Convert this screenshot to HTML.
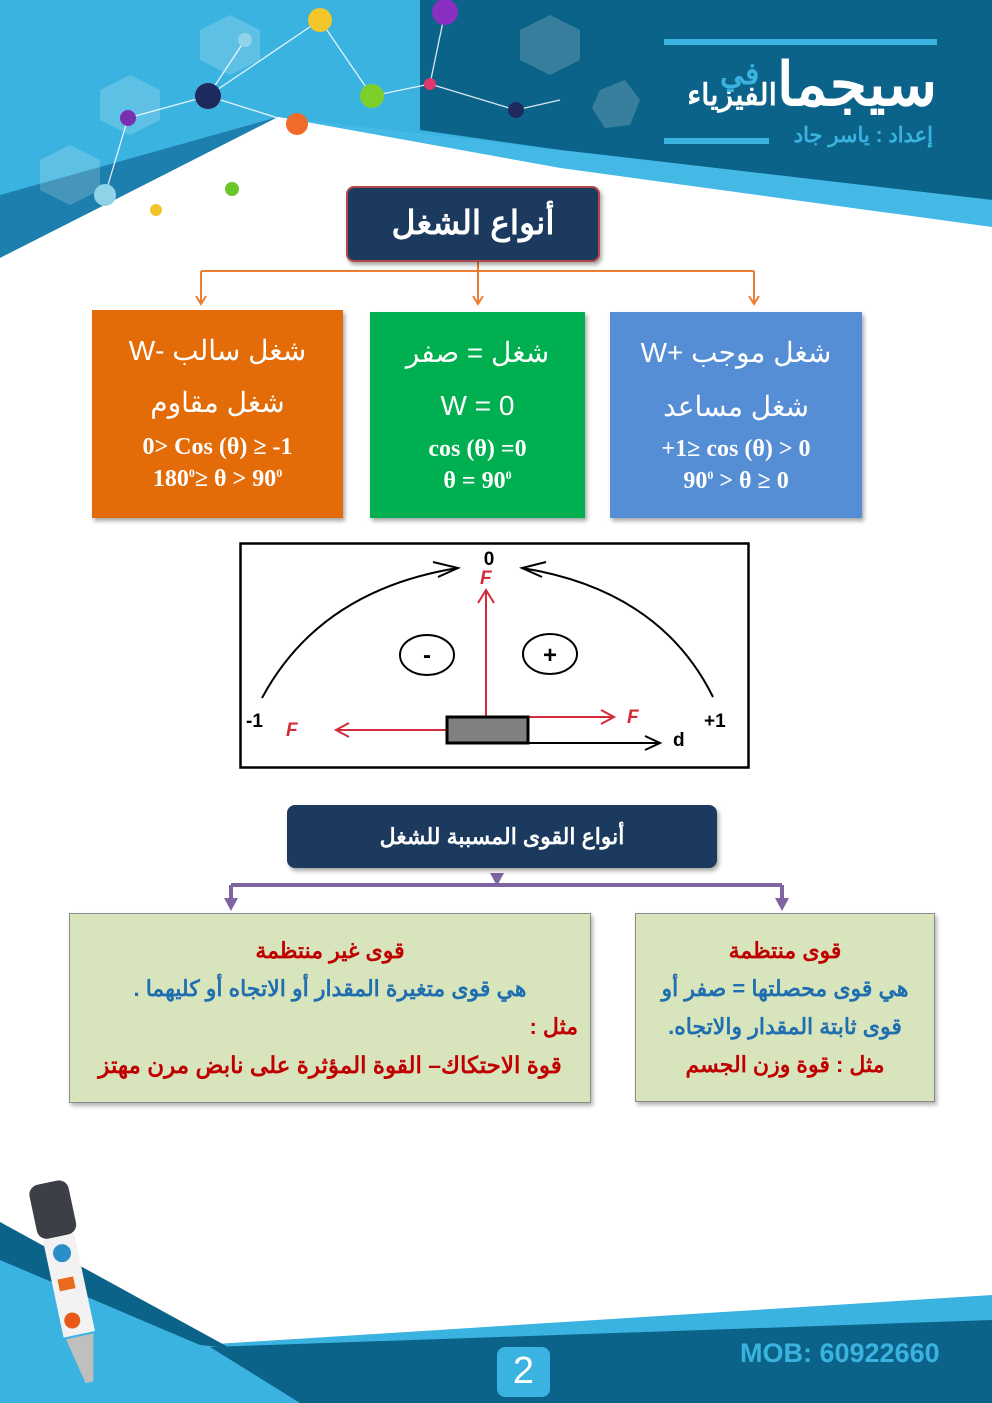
<!DOCTYPE html>
<html><head><meta charset="utf-8">
<style>
html,body{margin:0;padding:0}
body{width:992px;height:1403px;position:relative;overflow:hidden;background:#fff;font-family:"Liberation Sans","Noto Sans CJK SC",sans-serif}
.abs{position:absolute}
.box{position:absolute;color:#fff;text-align:center;box-shadow:2px 3px 4px rgba(0,0,0,.35)}
.ar{font-family:"Liberation Sans","WenQuanYi Zen Hei",sans-serif}
.ser{font-family:"Liberation Serif",serif;font-weight:bold}
.tb{position:absolute;background:#d8e4bc;border:1px solid #8a8a8a;box-shadow:2px 3px 4px rgba(0,0,0,.3);text-align:center;direction:rtl}
.tb div{position:absolute;left:0;right:0;font-size:22px;font-weight:bold}
.r{color:#c00000}.b{color:#1f6fb0}
</style></head><body>
<svg class="abs" style="left:0;top:0" width="992" height="1403">
 <!-- header -->
 <polygon points="0,0 992,0 992,230 278,117 0,258" fill="#3ab3e0"/>
 <polygon points="0,258 278,117 0,195" fill="#1d7fae"/>
 <polygon points="420,0 992,0 992,200 560,150 420,130" fill="#0c6389"/>
 <polygon points="278,117 560,150 992,200 992,228 560,168" fill="#45b9e6"/>
 <polygon points="0,258 278,117 560,168 992,227 992,1403 0,1403" fill="#ffffff"/>
 <g fill="#ffffff" opacity=".18">
  <polygon points="40,160 70,145 100,160 100,190 70,205 40,190"/>
  <polygon points="100,90 130,75 160,90 160,120 130,135 100,120"/>
  <polygon points="200,30 230,15 260,30 260,60 230,75 200,60"/>
  <polygon points="520,30 550,15 580,30 580,60 550,75 520,60"/>
  <polygon points="600,90 625,80 640,100 630,125 605,128 592,108"/>
 </g>
 <g stroke="#fff" stroke-width="1.3" opacity=".85">
  <line x1="128" y1="118" x2="208" y2="96"/><line x1="208" y1="96" x2="320" y2="20"/>
  <line x1="208" y1="96" x2="297" y2="124"/><line x1="372" y1="96" x2="430" y2="84"/>
  <line x1="430" y1="84" x2="516" y2="110"/><line x1="516" y1="110" x2="560" y2="100"/>
  <line x1="105" y1="195" x2="128" y2="118"/><line x1="445" y1="12" x2="430" y2="84"/>
  <line x1="245" y1="40" x2="208" y2="96"/><line x1="320" y1="20" x2="372" y2="96"/>
 </g>
 <circle cx="128" cy="118" r="8" fill="#7a2fb0"/>
 <circle cx="208" cy="96" r="13" fill="#1e2a5e"/>
 <circle cx="320" cy="20" r="12" fill="#f2c52b"/>
 <circle cx="445" cy="12" r="13" fill="#8a2fc2"/>
 <circle cx="372" cy="96" r="12" fill="#7ccf2b"/>
 <circle cx="430" cy="84" r="6" fill="#e0356e"/>
 <circle cx="516" cy="110" r="8" fill="#1e2a5e"/>
 <circle cx="297" cy="124" r="11" fill="#f06a2a"/>
 <circle cx="245" cy="40" r="7" fill="#8fd3e8"/>
 <circle cx="105" cy="195" r="11" fill="#8fd3e8"/>
 <circle cx="232" cy="189" r="7" fill="#6ac52b"/>
 <circle cx="156" cy="210" r="6" fill="#f2c52b"/>
 <rect x="664" y="39" width="273" height="6" fill="#3ab3e0"/>
 <rect x="664" y="138" width="105" height="6" fill="#3ab3e0"/>
 <!-- footer -->
 <polygon points="0,1222 200,1345 992,1295 992,1403 0,1403" fill="#3ab3e0"/>
 <polygon points="210,1347 992,1320 992,1403 300,1403" fill="#0c6389"/>
 <polygon points="0,1222 230,1348 200,1345 0,1260" fill="#0c6389"/>
 <!-- pen -->
 <g transform="rotate(-12 80 1280)">
  <rect x="48" y="1178" width="40" height="55" rx="10" fill="#3c3f45"/>
  <rect x="52" y="1233" width="32" height="100" fill="#f2f2f2"/>
  <circle cx="68" cy="1250" r="9" fill="#2a8fc8"/><rect x="58" y="1275" width="16" height="12" fill="#e86a1a"/>
  <circle cx="64" cy="1318" r="8" fill="#e85a1a"/>
  <polygon points="54,1335 82,1335 72,1382 64,1382" fill="#bfbfbf"/>
 </g>
 <rect x="497" y="1347" width="53" height="50" rx="8" fill="#3ab3e0"/>
 <!-- orange connectors -->
 <g stroke="#ed7d31" stroke-width="2" fill="none">
  <line x1="478" y1="262" x2="478" y2="302"/><line x1="201" y1="271" x2="754" y2="271"/>
  <line x1="201" y1="271" x2="201" y2="302"/><line x1="754" y1="271" x2="754" y2="302"/>
  <polyline points="196,296 201,304 206,296"/><polyline points="473,296 478,304 483,296"/><polyline points="749,296 754,304 759,296"/>
 </g>
 <!-- purple connectors -->
 <g stroke="#8064a2" stroke-width="4" fill="none">
  <line x1="231" y1="885" x2="782" y2="885"/>
  <line x1="231" y1="885" x2="231" y2="900"/><line x1="782" y1="885" x2="782" y2="900"/>
 </g>
 <g fill="#8064a2">
  <polygon points="224,898 238,898 231,911"/><polygon points="775,898 789,898 782,911"/>
  <polygon points="490,873 504,873 497,886"/>
 </g>
 <!-- diagram -->
 <rect x="240.5" y="543.5" width="508" height="224" fill="#fff" stroke="#000" stroke-width="2.5"/>
 <g fill="none" stroke="#000" stroke-width="2">
  <path d="M262,698 Q320,590 458,568"/><polyline points="433,562 458,568 438,577"/>
  <path d="M713,697 Q660,590 522,568"/><polyline points="546,562 522,568 542,577"/>
  <ellipse cx="427" cy="655" rx="27" ry="20"/><ellipse cx="550" cy="654" rx="27" ry="20"/>
  <line x1="528" y1="743" x2="660" y2="743"/><polyline points="645,736 660,743 645,750"/>
 </g>
 <text x="427" y="663" font-size="24" font-weight="bold" text-anchor="middle" font-family="Liberation Sans">-</text>
 <text x="550" y="663" font-size="24" font-weight="bold" text-anchor="middle" font-family="Liberation Sans">+</text>
 <g stroke="#d42b3a" stroke-width="2" fill="none">
  <line x1="486" y1="718" x2="486" y2="592"/><polyline points="478,603 486,590 494,603"/>
  <line x1="528" y1="717" x2="613" y2="717"/><polyline points="601,710 614,717 601,724"/>
  <line x1="447" y1="730" x2="336" y2="730"/><polyline points="349,723 336,730 349,737"/>
 </g>
 <rect x="447" y="717" width="81" height="26" fill="#808080" stroke="#000" stroke-width="3"/>
 <g font-family="Liberation Sans" font-weight="bold" font-size="19">
  <text x="489" y="565" text-anchor="middle">0</text>
  <text x="246" y="727">-1</text><text x="704" y="727">+1</text>
  <text x="673" y="746">d</text>
  <g fill="#d42b3a" font-style="italic"><text x="480" y="584">F</text><text x="627" y="723">F</text><text x="286" y="736">F</text></g>
 </g>
</svg>

<div class="abs ar" style="left:664px;top:50px;width:273px;text-align:right;direction:rtl;color:#fff;font-size:60px;font-weight:bold;line-height:70px">سيجما<span style="font-size:30px;color:#fff">الفيزياء</span><span style="position:absolute;left:56px;top:-10px;font-size:30px;color:#3ab3e0">في</span></div>
<div class="abs ar" style="left:776px;top:123px;width:157px;text-align:right;direction:rtl;color:#3ab3e0;font-size:21px;font-weight:bold">إعداد : ياسر جاد</div>

<div class="box ar" style="left:346px;top:186px;width:254px;height:76px;background:#1b3a5e;border:2px solid #b04a4a;border-radius:8px;box-sizing:border-box;font-size:33px;font-weight:bold;line-height:70px">أنواع الشغل</div>

<div class="box" style="left:92px;top:310px;width:251px;height:208px;background:#e36c09">
 <div class="ar" style="position:absolute;top:24px;width:100%;font-size:28px;direction:rtl">شغل سالب -W</div>
 <div class="ar" style="position:absolute;top:76px;width:100%;font-size:28px">شغل مقاوم</div>
 <div class="ser" style="position:absolute;top:124px;width:100%;font-size:24px">0&gt; Cos (θ) ≥ -1</div>
 <div class="ser" style="position:absolute;top:156px;width:100%;font-size:24px">180<sup style="font-size:12px">0</sup>≥ θ &gt; 90<sup style="font-size:12px">0</sup></div>
</div>
<div class="box" style="left:370px;top:312px;width:215px;height:206px;background:#00b050">
 <div class="ar" style="position:absolute;top:24px;width:100%;font-size:28px;direction:rtl">شغل = صفر</div>
 <div class="ar" style="position:absolute;top:78px;width:100%;font-size:28px">W = 0</div>
 <div class="ser" style="position:absolute;top:124px;width:100%;font-size:24px">cos (θ) =0</div>
 <div class="ser" style="position:absolute;top:156px;width:100%;font-size:24px">θ = 90<sup style="font-size:12px">0</sup></div>
</div>
<div class="box" style="left:610px;top:312px;width:252px;height:206px;background:#558ed5">
 <div class="ar" style="position:absolute;top:24px;width:100%;font-size:28px;direction:rtl">شغل موجب +W</div>
 <div class="ar" style="position:absolute;top:78px;width:100%;font-size:28px">شغل مساعد</div>
 <div class="ser" style="position:absolute;top:124px;width:100%;font-size:24px">+1≥ cos (θ) &gt; 0</div>
 <div class="ser" style="position:absolute;top:156px;width:100%;font-size:24px">90<sup style="font-size:12px">0</sup> &gt; θ ≥ 0</div>
</div>

<div class="box ar" style="left:287px;top:805px;width:430px;height:63px;background:#1b3a5e;border-radius:8px;font-size:22px;font-weight:bold;line-height:63px">أنواع القوى المسببة للشغل</div>

<div class="tb ar" style="left:69px;top:913px;width:520px;height:188px">
 <div class="r" style="top:24px">قوى غير منتظمة</div>
 <div class="b" style="top:62px">هي قوى متغيرة  المقدار أو الاتجاه أو كليهما .</div>
 <div class="r" style="top:100px;text-align:right;padding-right:12px">مثل :</div>
 <div class="r" style="top:138px;font-size:23px">قوة الاحتكاك– القوة المؤثرة على نابض مرن مهتز</div>
</div>
<div class="tb ar" style="left:635px;top:913px;width:298px;height:187px">
 <div class="r" style="top:24px">قوى منتظمة</div>
 <div class="b" style="top:62px">هي قوى محصلتها = صفر أو</div>
 <div class="b" style="top:100px">قوى ثابتة المقدار والاتجاه.</div>
 <div class="r" style="top:138px">مثل : قوة وزن الجسم</div>
</div>

<div class="abs" style="left:497px;top:1347px;width:53px;text-align:center;color:#fff;font-size:38px;line-height:48px">2</div>
<div class="abs" style="left:740px;top:1338px;color:#3ab3e0;font-size:27px;font-weight:bold">MOB: 60922660</div>
</body></html>
